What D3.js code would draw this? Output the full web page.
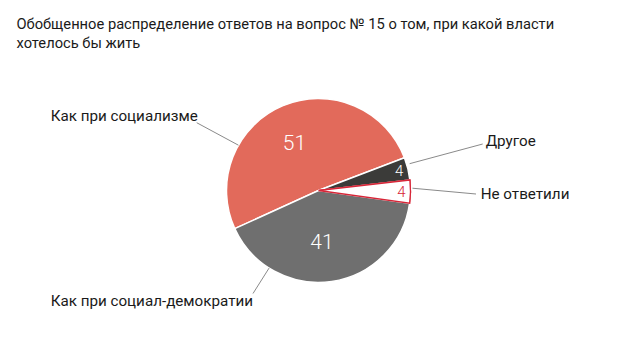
<!DOCTYPE html>
<html><head><meta charset="utf-8">
<script src="https://cdn.jsdelivr.net/npm/d3@7"></script>
<style>
html,body{margin:0;padding:0;background:#fff;}
svg{display:block;}
text{font-family:Roboto,"Noto Sans",sans-serif;}
</style></head>
<body>
<svg id="chart" width="640" height="357"></svg>
<script>
const titleLines = ["Обобщенное распределение ответов на вопрос № 15 о том, при какой власти", "хотелось бы жить"];
const categories = ["Как при социализме", "Другое", "Не ответили", "Как при социал-демократии"];
const values = [51, 4, 4, 41];
const fills = ["#e26a5b", "#3b3b39", "#ffffff", "#6f6f6f"];
const strokes = ["#ffffff", "#ffffff", "#d72638", "#ffffff"];
const labelColors = ["#ffffff", "#ffffff", "#d72638", "#ffffff"];

const svg = d3.select("#chart");
const cx = 318.5, cy = 190.5, R = 92;

// title
const title = svg.append("text").attr("x", 16.5).attr("y", 29.3)
  .attr("font-size", 15.5).attr("fill", "#1a1a1a");
titleLines.forEach((t, i) => title.append("tspan").attr("x", 16.5).attr("dy", i ? 18.3 : 0).text(t));
const first = title.select("tspan").node();
const w = first.getComputedTextLength();
title.attr("font-size", 15.5 * 538 / w);

const data = categories.map((c, i) => ({ cat: c, value: values[i], i }));
const start = -114.5 * Math.PI / 180;
const pie = d3.pie().value(d => d.value).sort(null).startAngle(start).endAngle(start + 2 * Math.PI);
const arcs = pie(data);
const arc = d3.arc().innerRadius(0).outerRadius(R);

const g = svg.append("g").attr("transform", `translate(${cx},${cy})`);
g.selectAll("path.slice").data(arcs).enter().append("path")
  .attr("class", "slice")
  .attr("d", arc)
  .attr("fill", d => fills[d.data.i])
  .attr("stroke", d => strokes[d.data.i])
  .attr("stroke-width", d => d.data.i === 2 ? 1.3 : 1.5)
  .attr("stroke-linejoin", "miter");
g.append("path").datum(arcs[2]).attr("d", arc).attr("fill", "#fff")
  .attr("stroke", strokes[2]).attr("stroke-width", 1.3);

// value labels
const bigArc = d3.arc().innerRadius(52).outerRadius(52);
const smallArc = d3.arc().innerRadius(83).outerRadius(83);
g.selectAll("text.val").data(arcs).enter().append("text")
  .attr("class", "val")
  .attr("transform", d => {
    const c = (d.value > 10 ? bigArc : smallArc).centroid(d);
    return `translate(${c[0] - (d.value > 10 ? 4 : 0)},${c[1]})`;
  })
  .attr("text-anchor", "middle")
  .attr("dominant-baseline", "central")
  .attr("font-size", d => d.value > 10 ? 21 : 15)
  .attr("font-weight", 300)
  .attr("fill", d => labelColors[d.data.i])
  .text(d => d.data.value);

// leader lines and category labels
const leaderAngles = [-60.5, 73.6, 88.6, 212.5];
const leaderEnds = [[196.7, 122.7], [482.7, 144], [476, 194], [253, 293.5]];
const labelPos = [[50.7, 116], [485.7, 140.7], [480.7, 194], [50.7, 301]];
const leaderR = [92, 95, 94, 92];
categories.forEach((c, i) => {
  const a = leaderAngles[i] * Math.PI / 180;
  const x0 = cx + leaderR[i] * Math.sin(a), y0 = cy - leaderR[i] * Math.cos(a);
  svg.append("line").attr("x1", x0).attr("y1", y0)
    .attr("x2", leaderEnds[i][0]).attr("y2", leaderEnds[i][1])
    .attr("stroke", "#8a8a8a").attr("stroke-width", 1);
  svg.append("text").attr("class", "cat").attr("x", labelPos[i][0]).attr("y", labelPos[i][1])
    .attr("dominant-baseline", "central")
    .attr("font-size", 15.2).attr("fill", "#1a1a1a")
    .text(c);
});
</script>
</body></html>
